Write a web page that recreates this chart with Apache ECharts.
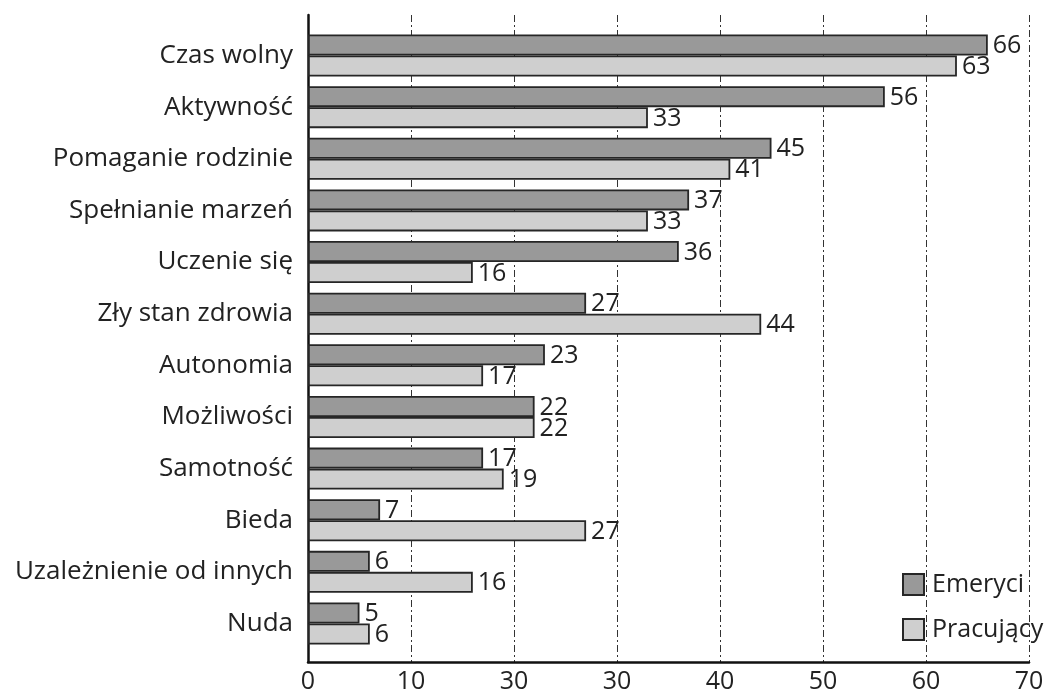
<!DOCTYPE html>
<html>
<head>
<meta charset="utf-8">
<script src="https://cdn.jsdelivr.net/npm/echarts@6/dist/echarts.min.js"></script>
<style>
  html, body { margin: 0; padding: 0; background: #fff; }
  #chart { width: 1050px; height: 695px; }
</style>
</head>
<body>
<div id="chart"></div>
<script>
// Categories, top to bottom
const categories = [
  'Czas wolny', 'Aktywność', 'Pomaganie rodzinie', 'Spełnianie marzeń',
  'Uczenie się', 'Zły stan zdrowia', 'Autonomia', 'Możliwości',
  'Samotność', 'Bieda', 'Uzależnienie od innych', 'Nuda'
];
const emeryci   = [66, 56, 45, 37, 36, 27, 23, 22, 17, 7, 6, 5];
const pracujacy = [63, 33, 41, 33, 16, 44, 17, 22, 19, 27, 16, 6];
// Tick labels printed under the value axis
const tickLabels = ['0', '10', '30', '30', '40', '50', '60', '70'];

const FONT = 'Open Sans';
const FS = 25;
const chart = echarts.init(document.getElementById('chart'));

const barLabel = {
  show: true,
  position: 'right',
  distance: 5,
  fontFamily: FONT,
  fontSize: FS,
  color: '#222',
  offset: [0, 1]
};

chart.setOption({
  animation: false,
  backgroundColor: '#fff',
  grid: [
    // frame: axis lines and dashed verticals
    { left: 308, right: 21, top: 15, bottom: 33 },
    // bars
    { left: 308, right: 21, top: 29.7, bottom: 45.7 }
  ],
  legend: {
    orient: 'vertical',
    left: 897,
    top: 567,
    itemWidth: 21,
    itemHeight: 21,
    itemGap: 20,
    icon: 'rect',
    textStyle: {
      fontFamily: FONT, fontSize: FS, color: '#222',
      lineHeight: 22, padding: [0, 0, 0, 3]
    },
    data: ['Emeryci', 'Pracujący']
  },
  xAxis: [
    {
      gridIndex: 0,
      type: 'value',
      min: 0,
      max: 70,
      interval: 10,
      axisLine: { show: true, onZero: false, lineStyle: { color: '#111', width: 2.5 } },
      axisTick: { show: false },
      axisLabel: {
        margin: 7,
        fontFamily: FONT,
        fontSize: FS,
        color: '#222',
        formatter: (v) => tickLabels[Math.round(v / 10)]
      },
      splitLine: {
        show: true,
        lineStyle: { color: '#333', width: 1, type: [7, 3, 2, 3] }
      }
    },
    {
      gridIndex: 1,
      type: 'value',
      min: 0,
      max: 70,
      show: false
    }
  ],
  yAxis: [
    {
      gridIndex: 0,
      type: 'value',
      min: 0,
      max: 1,
      axisLine: { show: true, lineStyle: { color: '#111', width: 2.5 } },
      axisTick: { show: false },
      axisLabel: { show: false },
      splitLine: { show: false }
    },
    {
      gridIndex: 1,
      type: 'category',
      inverse: true,
      data: categories,
      axisLine: { show: false },
      axisTick: { show: false },
      axisLabel: {
        margin: 15,
        fontFamily: FONT,
        fontSize: 26,
        color: '#222'
      },
      splitLine: { show: false }
    }
  ],
  series: [
    {
      name: 'Emeryci',
      type: 'bar',
      xAxisIndex: 1,
      yAxisIndex: 1,
      data: emeryci,
      barWidth: 21,
      barGap: '0%',
      itemStyle: { color: '#999999', borderColor: '#262626', borderWidth: 1.8 },
      label: barLabel
    },
    {
      name: 'Pracujący',
      type: 'bar',
      xAxisIndex: 1,
      yAxisIndex: 1,
      data: pracujacy,
      barWidth: 21,
      barGap: '0%',
      itemStyle: { color: '#cfcfcf', borderColor: '#262626', borderWidth: 1.8 },
      label: barLabel
    }
  ]
});
</script>
</body>
</html>
